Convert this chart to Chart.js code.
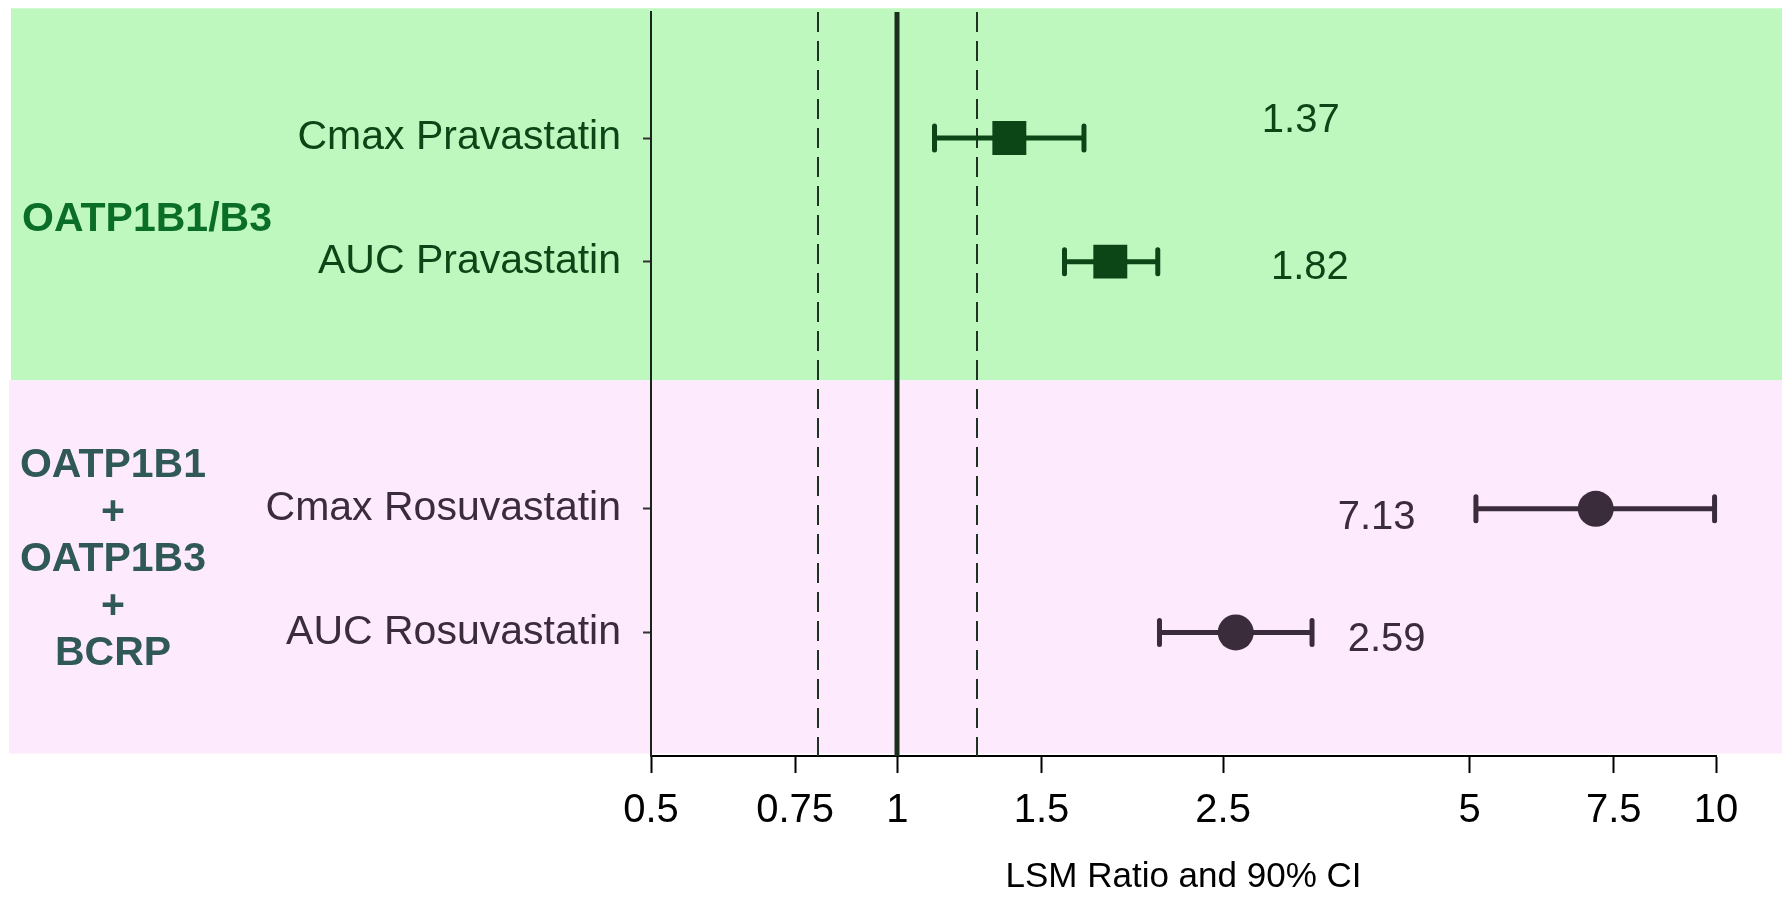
<!DOCTYPE html>
<html>
<head>
<meta charset="utf-8">
<script src="https://cdn.jsdelivr.net/npm/chart.js@4.4.1/dist/chart.umd.min.js"></script>
<style>
  body { margin: 0; background: #fff; }
  #wrap { width: 1782px; height: 898px; position: relative; }
</style>
</head>
<body>
<div id="wrap"><canvas id="forest"></canvas></div>
<script>
const categories = ['Cmax Pravastatin', 'AUC Pravastatin', 'Cmax Rosuvastatin', 'AUC Rosuvastatin'];
const rowPos = [1, 2, 4, 5];
const ratios = [1.37, 1.82, 7.13, 2.59];
const ciLow = [1.11, 1.60, 5.09, 2.09];
const ciHigh = [1.69, 2.08, 9.96, 3.21];
const xTicks = [0.5, 0.75, 1, 1.5, 2.5, 5, 7.5, 10];
const refLines = [0.8, 1, 1.25];
const groupTop = ['OATP1B1/B3'];
const groupBottom = ['OATP1B1', '+', 'OATP1B3', '+', 'BCRP'];

const FONT = "'Liberation Sans', Arial, sans-serif";
const greenDark = '#0c4516';
const purpleDark = '#3b2c3c';

function rowColor(i) { return i < 2 ? greenDark : purpleDark; }

const ctx = document.getElementById('forest').getContext('2d');

const extras = {
  id: 'extras',
  beforeDraw(chart) {
    const c = chart.ctx, y = chart.scales.y, w = chart.width;
    c.save();
    c.fillStyle = '#bff8bf';
    const a = y.getPixelForValue(-0.05), b = y.getPixelForValue(2.96), d = y.getPixelForValue(5.98);
    c.fillRect(11, a, w - 11, b - a);
    c.fillStyle = '#fdeafd';
    c.fillRect(9, b, w - 9, d - b);
    c.restore();
  },
  beforeDatasetsDraw(chart) {
    const c = chart.ctx, x = chart.scales.x, y = chart.scales.y, area = chart.chartArea;
    c.save();
    // reference lines at 0.8, 1 and 1.25
    refLines.forEach(v => {
      const px = Math.round(x.getPixelForValue(v));
      c.beginPath();
      if (v === 1) {
        c.lineWidth = 5;
        c.setLineDash([]);
        c.strokeStyle = '#1a2e1e';
      } else {
        c.lineWidth = 2;
        c.setLineDash([20, 9]);
        c.strokeStyle = '#1f3322';
      }
      c.moveTo(px, area.top);
      c.lineTo(px, area.bottom);
      c.stroke();
    });
    c.setLineDash([]);
    // 90% CI whiskers
    ratios.forEach((r, i) => {
      const py = y.getPixelForValue(rowPos[i]);
      const x1 = x.getPixelForValue(ciLow[i]);
      const x2 = x.getPixelForValue(ciHigh[i]);
      c.strokeStyle = rowColor(i);
      c.lineWidth = 5;
      c.lineCap = 'round';
      c.beginPath();
      c.moveTo(x1, py); c.lineTo(x2, py);
      c.moveTo(x1, py - 12); c.lineTo(x1, py + 12);
      c.moveTo(x2, py - 12); c.lineTo(x2, py + 12);
      c.stroke();
    });
    c.restore();
  },
  afterDraw(chart) {
    const c = chart.ctx, x = chart.scales.x, y = chart.scales.y;
    c.save();
    // ratio labels
    const labelAt = [3.11, 3.19, 3.85, 3.96];
    const labelShift = [-0.14, 0.05, 0.07, 0.06];
    c.font = '40px ' + FONT;
    c.textAlign = 'center';
    c.textBaseline = 'middle';
    ratios.forEach((r, i) => {
      c.fillStyle = rowColor(i);
      c.fillText(r.toFixed(2), x.getPixelForValue(labelAt[i]), y.getPixelForValue(rowPos[i] + labelShift[i]));
    });
    // transporter group labels
    c.font = 'bold 41px ' + FONT;
    c.fillStyle = '#0b6e28';
    c.fillText(groupTop[0], 147, y.getPixelForValue(1.66));
    c.fillStyle = '#2f5857';
    const mid = y.getPixelForValue(4.41);
    groupBottom.forEach((t, i) => {
      c.fillText(t, 113, mid + (i - 2) * 47);
    });
    c.restore();
  }
};

new Chart(ctx, {
  type: 'scatter',
  data: {
    datasets: [{
      label: 'Pravastatin',
      data: [0, 1].map(i => ({ x: ratios[i], y: rowPos[i] })),
      pointStyle: 'rect',
      pointRadius: 24,
      backgroundColor: greenDark,
      borderColor: greenDark,
      borderWidth: 0
    }, {
      label: 'Rosuvastatin',
      data: [2, 3].map(i => ({ x: ratios[i], y: rowPos[i] })),
      pointStyle: 'circle',
      pointRadius: 18,
      backgroundColor: purpleDark,
      borderColor: purpleDark,
      borderWidth: 0
    }]
  },
  options: {
    responsive: true,
    maintainAspectRatio: false,
    animation: false,
    events: [],
    layout: { autoPadding: false, padding: { top: 12, right: 66, left: 0, bottom: 0 } },
    plugins: { legend: { display: false }, tooltip: { enabled: false } },
    scales: {
      x: {
        type: 'logarithmic',
        min: 0.5,
        max: 10,
        afterBuildTicks(scale) { scale.ticks = xTicks.map(v => ({ value: v })); },
        afterFit(scale) { scale.height = 142; },
        ticks: {
          callback: (v, i) => String(xTicks[i]),
          font: { family: FONT, size: 40 },
          color: '#000',
          padding: 14,
          maxRotation: 0,
          autoSkip: false
        },
        grid: { drawOnChartArea: false, drawTicks: true, tickLength: 17, tickColor: '#000', tickWidth: 2 },
        border: { display: true, color: '#000', width: 2 },
        title: {
          display: true,
          text: 'LSM Ratio and 90% CI',
          font: { family: FONT, size: 35 },
          color: '#000',
          padding: { top: 24, bottom: 0 }
        }
      },
      y: {
        type: 'linear',
        min: -0.02,
        max: 6,
        reverse: true,
        afterBuildTicks(scale) { scale.ticks = rowPos.map(v => ({ value: v })); },
        afterFit(scale) {
          scale.width = 651;
          scale.paddingTop = 0;
          scale.paddingBottom = 0;
        },
        ticks: {
          callback: (v) => categories[rowPos.indexOf(v)],
          font: { family: FONT, size: 41 },
          color: (c) => rowColor(c.index),
          padding: 22,
          autoSkip: false
        },
        grid: { drawOnChartArea: false, drawTicks: true, tickLength: 8, tickColor: '#333', tickWidth: 2 },
        border: { display: true, color: '#1a241c', width: 2 }
      }
    }
  },
  plugins: [extras]
});
</script>
</body>
</html>
